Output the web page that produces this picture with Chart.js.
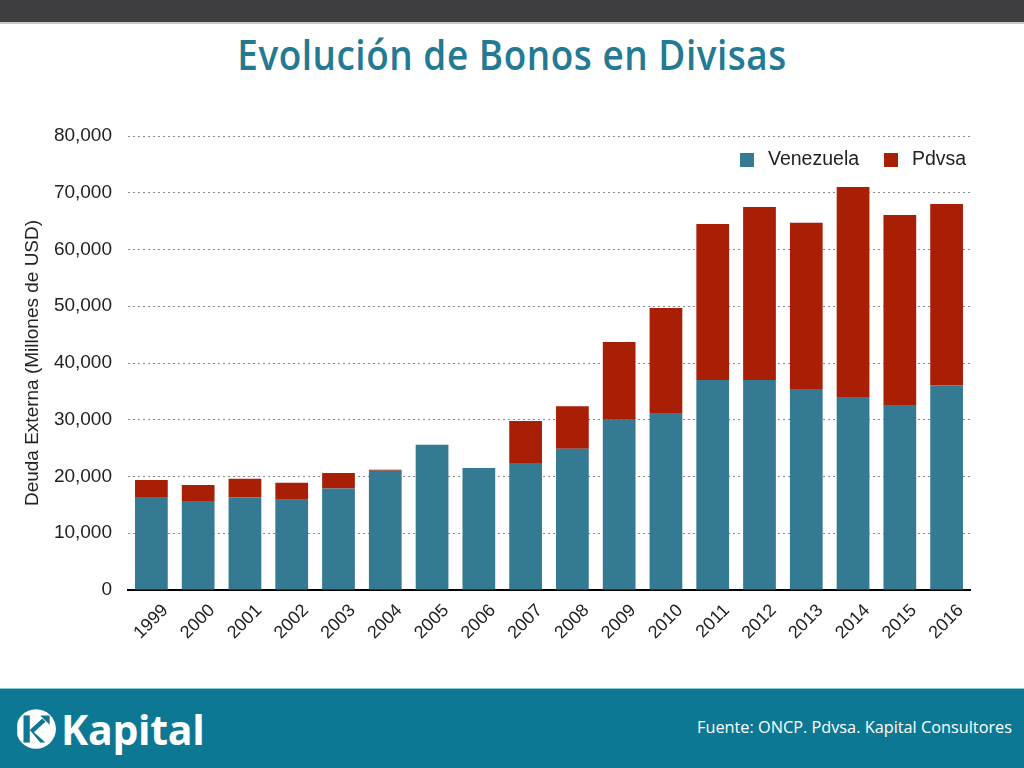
<!DOCTYPE html>
<html><head><meta charset="utf-8">
<script src="https://cdn.jsdelivr.net/npm/chart.js@4.4.1/dist/chart.umd.min.js"></script>
<style>
html,body{margin:0;padding:0;width:1024px;height:768px;overflow:hidden;background:#fff;font-family:"Liberation Sans",Arial,sans-serif;}
#topbar{position:absolute;left:0;top:0;width:1024px;height:22px;background:#3e3e40;border-bottom:2px solid #c8c8c8;}
#title{position:absolute;left:0;top:26px;width:1024px;text-align:center;font-family:"Open Sans",sans-serif;font-weight:600;font-size:41px;color:#237a92;letter-spacing:0.6px;transform:scaleX(0.9);}
#wrap{position:absolute;left:0;top:88px;width:1024px;height:600px;}
#footer{position:absolute;left:0;top:688px;width:1024px;height:80px;background:#0d7893;border-top:1px solid #8cc8d8;box-sizing:border-box;}
#logo{position:absolute;left:14px;top:17px;height:46px;display:flex;align-items:center;}
#logo span{font-family:"Open Sans",sans-serif;font-weight:700;font-size:41px;color:#fff;margin-left:5px;letter-spacing:-0.3px;}
#src{position:absolute;right:12px;top:27px;font-family:"Open Sans",sans-serif;font-size:16.3px;color:#fff;}
</style></head>
<body>
<div id="topbar"></div>
<div id="title">Evolución de Bonos en Divisas</div>
<div id="wrap"><canvas id="c" width="1024" height="600"></canvas></div>
<div id="footer">
  <div id="logo"><svg width="42" height="46" viewBox="0 0 40 44">
    <circle cx="21" cy="22" r="19" fill="#fff"/>
    <path d="M3 8 A19 19 0 0 0 3 36 Z" fill="#0d7893"/>
    <rect x="9" y="9" width="6" height="26" fill="#0d7893"/>
    <path d="M15 23 L27 12 L30 15 L19 25 L30 35 L25 35 Z" fill="#0d7893"/>
    <path d="M25 9 L34 9 L34 18 Z" fill="#0d7893"/>
  </svg><span>Kapital</span></div>
  <div id="src">Fuente: ONCP. Pdvsa. Kapital Consultores</div>
</div>
<script>
const years = ["1999","2000","2001","2002","2003","2004","2005","2006","2007","2008","2009","2010","2011","2012","2013","2014","2015","2016"];
const venezuela = [16400,15700,16300,15900,17900,21000,25600,21500,22400,24900,30000,31200,37000,37000,35400,34000,32600,36100];
const pdvsa = [3000,2800,3300,3000,2700,200,0,0,7400,7500,13700,18500,27500,30500,29300,37000,33500,31900];
const yTicks = [0,10000,20000,30000,40000,50000,60000,70000,80000];
const colV = "#357a93", colP = "#a91f06";

const legendPlugin = {
  id: "inLegend",
  afterDraw(chart) {
    const ctx = chart.ctx;
    const items = chart.data.datasets;
    const pos = [{x:740,label:items[0].label,c:items[0].backgroundColor},{x:884,label:items[1].label,c:items[1].backgroundColor}];
    ctx.save();
    ctx.font = "19.5px 'Liberation Sans', Arial, sans-serif";
    ctx.textBaseline = "middle";
    const y = 72;
    pos.forEach(p => {
      ctx.fillStyle = p.c;
      ctx.fillRect(p.x, y - 7, 14, 14);
      ctx.fillStyle = "#222";
      ctx.fillText(p.label, p.x + 28, y);
    });
    ctx.restore();
  }
};

new Chart(document.getElementById("c"), {
  type: "bar",
  data: {
    labels: years,
    datasets: [
      {label:"Venezuela", data: venezuela, backgroundColor: colV, barPercentage: 0.7, categoryPercentage: 1},
      {label:"Pdvsa", data: pdvsa, backgroundColor: colP, barPercentage: 0.7, categoryPercentage: 1}
    ]
  },
  options: {
    responsive: false,
    animation: false,
    layout: {padding: {top: 48, left: 21, right: 54, bottom: 30}},
    plugins: {legend: {display: false}, tooltip: {enabled: false}},
    scales: {
      x: {
        stacked: true,
        grid: {display: false, drawTicks: false},
        border: {display: true, color: "#000", width: 2},
        ticks: {color: "#222", font: {size: 18, family: "'Liberation Sans', Arial, sans-serif"}, minRotation: 45, maxRotation: 45, padding: 10, labelOffset: 14},
        afterFit(s) { s.height = 68; }
      },
      y: {
        stacked: true,
        min: 0, max: 80000,
        afterBuildTicks(s) { s.ticks = yTicks.map(v => ({value: v})); },
        grid: {color: "#8a8a8a", lineWidth: 1, drawTicks: false},
        border: {display: false, dash: [2,3]},
        ticks: {color: "#222", padding: 16, font: {size: 19, family: "'Liberation Sans', Arial, sans-serif"},
          callback: v => v.toLocaleString("en-US")},
        title: {display: true, text: "Deuda Externa (Millones de USD)", color: "#222", font: {size: 19, family: "'Liberation Sans', Arial, sans-serif"}, padding: {top: 0, bottom: 8}},
        afterFit(s) { s.width = 107; }
      }
    }
  },
  plugins: [legendPlugin]
});
</script>
</body></html>
